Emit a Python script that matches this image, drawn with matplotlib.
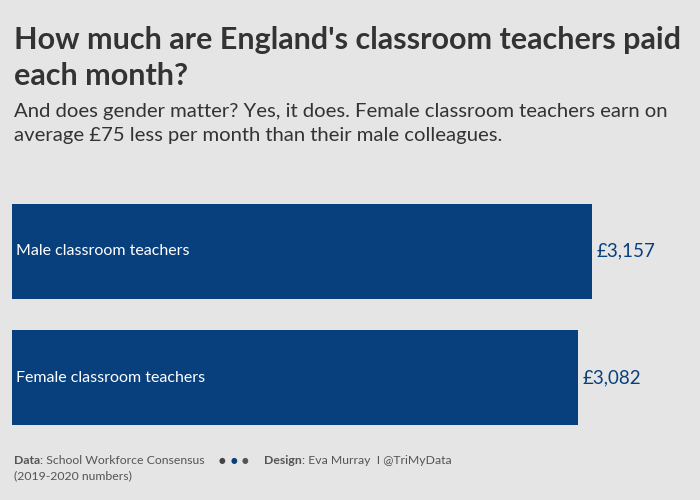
import matplotlib.pyplot as plt

plt.rcParams['font.family'] = ['Lato', 'DejaVu Sans']

categories = ["Male classroom teachers", "Female classroom teachers"]
pay = [3157, 3082]
value_labels = ["£3,157", "£3,082"]

bg = "#E5E5E5"
bar_color = "#08407E"
text_dark = "#333333"

fig = plt.figure(figsize=(7, 5), dpi=100, facecolor=bg)

# bar area: x 12..700 px, y 204..425 px
ax = fig.add_axes([12 / 700, 1 - 441 / 500, 688 / 700, 253 / 500])
ax.set_facecolor(bg)
ypos = list(range(len(categories)))
ax.barh(ypos, pay, height=0.754, color=bar_color)
ax.set_xlim(0, 3157 * 688 / 580)
ax.set_ylim(1.5, -0.5)
for y, v, cat, lab in zip(ypos, pay, categories, value_labels):
    ax.text(22, y, cat, color="white", fontsize=11.5, va="center", ha="left")
    ax.text(v + 25, y, lab, color=bar_color, fontsize=13.5, va="center", ha="left")
ax.axis("off")

fig.text(14 / 700, 1 - 40 / 500, "How much are England's classroom teachers paid",
         fontsize=22, fontweight="bold", color=text_dark, va="center")
fig.text(14 / 700, 1 - 76 / 500, "each month?",
         fontsize=22, fontweight="bold", color=text_dark, va="center")
fig.text(14 / 700, 1 - 111 / 500,
         "And does gender matter? Yes, it does. Female classroom teachers earn on",
         fontsize=14.6, color=text_dark, va="center")
fig.text(14 / 700, 1 - 135 / 500,
         "average £75 less per month than their male colleagues.",
         fontsize=14.6, color=text_dark, va="center")

foot = "#555555"
renderer = fig.canvas.get_renderer()


def bold_then_plain(x_px, y_px, bold, plain):
    t = fig.text(x_px / 700, 1 - y_px / 500, bold, fontsize=8.8, fontweight="bold",
                 color=foot, va="center")
    w = t.get_window_extent(renderer).width
    fig.text((x_px + w) / 700, 1 - y_px / 500, plain, fontsize=8.8, color=foot, va="center")


bold_then_plain(14, 460, "Data", ": School Workforce Consensus")
for x, c in zip([222, 234, 245], ["#444444", bar_color, "#555555"]):
    fig.text(x / 700, 1 - 460 / 500, "●", fontsize=5.5, color=c, va="center", ha="center",
             family=["DejaVu Sans"])
bold_then_plain(264, 460, "Design", ": Eva Murray  I @TriMyData")
fig.text(14 / 700, 1 - 476 / 500, "(2019-2020 numbers)", fontsize=8.8, color=foot, va="center")

fig.savefig("out.png", dpi=100, facecolor=bg)
